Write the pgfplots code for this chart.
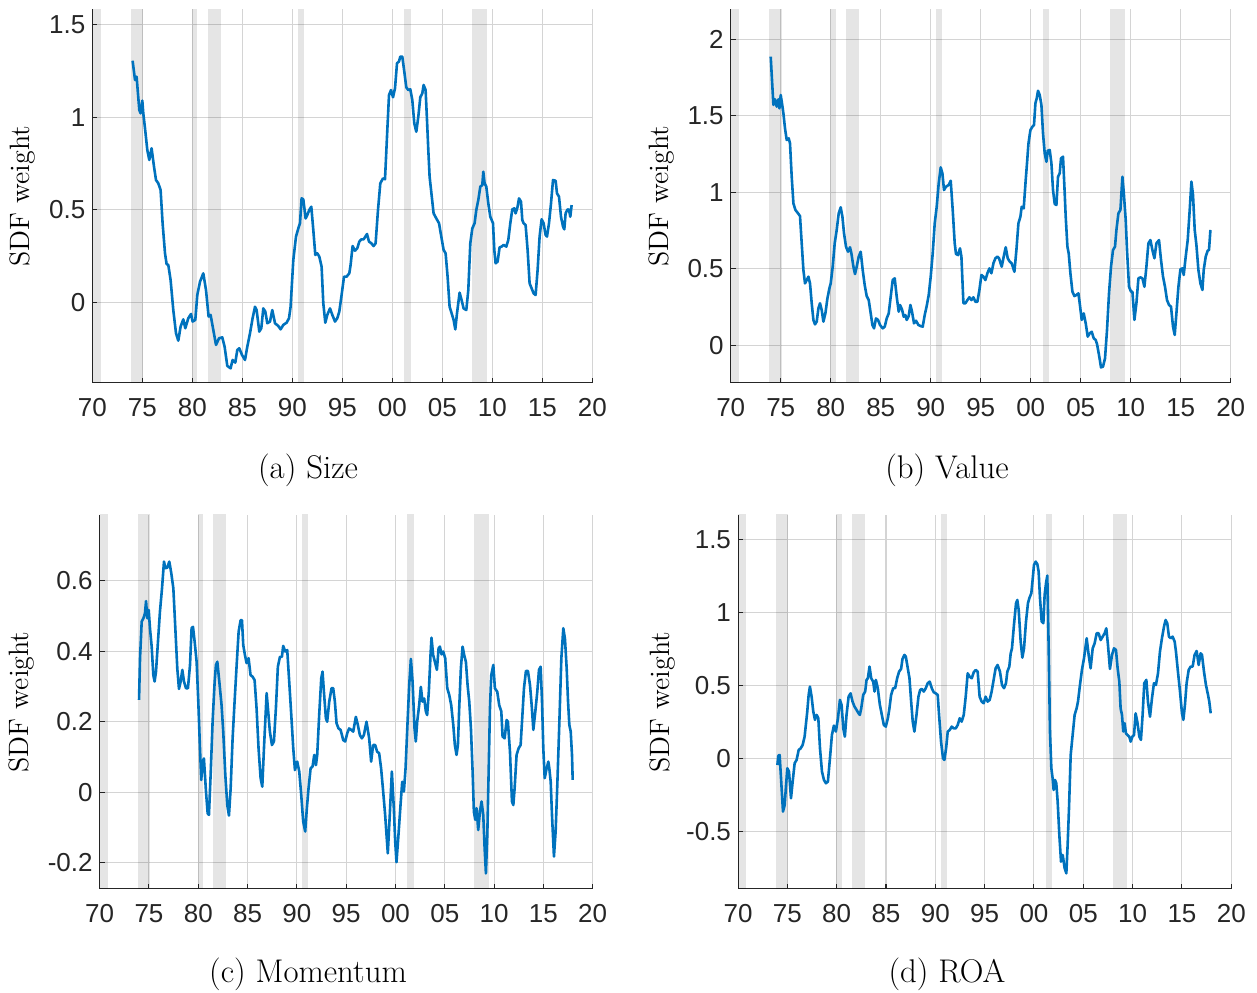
\documentclass[border=0pt]{standalone}
\usepackage{pgfplots}
\pgfplotsset{compat=1.18}
\usepackage{fontspec}
\newfontfamily\arial{Liberation Sans}
\definecolor{sdfblue}{RGB}{0,114,189}
\definecolor{axgray}{RGB}{38,38,38}

% NBER recession bands, drawn translucent so the grid shows through
\newcommand{\recessions}{%
  \addplot[draw=none, fill=black, fill opacity=0.1] coordinates {(1969.90,-5) (1969.90,5) (1970.83,5) (1970.83,-5)} -- cycle;
  \addplot[draw=none, fill=black, fill opacity=0.1] coordinates {(1973.87,-5) (1973.87,5) (1975.10,5) (1975.10,-5)} -- cycle;
  \addplot[draw=none, fill=black, fill opacity=0.1] coordinates {(1979.93,-5) (1979.93,5) (1980.50,5) (1980.50,-5)} -- cycle;
  \addplot[draw=none, fill=black, fill opacity=0.1] coordinates {(1981.53,-5) (1981.53,5) (1982.83,5) (1982.83,-5)} -- cycle;
  \addplot[draw=none, fill=black, fill opacity=0.1] coordinates {(1990.53,-5) (1990.53,5) (1991.17,5) (1991.17,-5)} -- cycle;
  \addplot[draw=none, fill=black, fill opacity=0.1] coordinates {(2001.20,-5) (2001.20,5) (2001.87,5) (2001.87,-5)} -- cycle;
  \addplot[draw=none, fill=black, fill opacity=0.1] coordinates {(2007.97,-5) (2007.97,5) (2009.47,5) (2009.47,-5)} -- cycle;
}

\pgfplotsset{sdfpanel/.style={
  scale only axis, xmin=1970, xmax=2020,
  axis x line*=bottom, axis y line*=left,
  xtick={1970,1975,1980,1985,1990,1995,2000,2005,2010,2015,2020},
  xticklabels={70,75,80,85,90,95,00,05,10,15,20},
  grid=major, major grid style={draw=black!17, line width=0.5pt},
  tick align=inside, major tick length=2.5pt,
  tick style={draw=axgray, line width=0.5pt},
  axis line style={draw=axgray, line width=0.5pt},
  ticklabel style={font=\arial\fontsize{13}{15}\selectfont, text=axgray},
  /pgf/number format/assume math mode=true,
  xticklabel style={yshift=-4.2pt},
  ylabel={SDF weight},
  ylabel style={font=\fontsize{14}{16}\selectfont, anchor=center},
  series/.style={sdfblue, line width=1.3pt, line join=round, mark=none},
}}

\begin{document}
\begin{tikzpicture}
\path[use as bounding box] (0,0) rectangle (628.5pt,496pt);

% (a) Size
\begin{axis}[sdfpanel, at={(46.15pt,304.5pt)}, anchor=south west,
  width=250pt, height=186.75pt, ymin=-0.433, ymax=1.58, ytick={0,0.5,1,1.5},
  ylabel style={at={(axis description cs:-0.14,0.5)}}]
\recessions
\addplot[series] coordinates {
(1974.03,1.304) (1974.27,1.20) (1974.43,1.218) (1974.7,1.038) (1974.83,1.02) (1975.0,1.089) (1975.1,1.02) (1975.27,0.94) (1975.5,0.823) (1975.7,0.769) (1975.93,0.832) (1976.17,0.733) (1976.37,0.661) (1976.6,0.643) (1976.83,0.607) (1977.03,0.428) (1977.27,0.266) (1977.43,0.208) (1977.6,0.203) (1977.83,0.122) (1978.1,-0.04) (1978.37,-0.165) (1978.6,-0.205) (1978.83,-0.129) (1979.1,-0.09) (1979.3,-0.138) (1979.6,-0.084) (1979.87,-0.061) (1980.03,-0.102) (1980.3,-0.093) (1980.5,0.041) (1980.77,0.113) (1981.1,0.158) (1981.37,0.068) (1981.63,-0.075) (1981.83,-0.066) (1982.1,-0.147) (1982.37,-0.228) (1982.67,-0.192) (1983.0,-0.187) (1983.23,-0.237) (1983.5,-0.341) (1983.83,-0.354) (1984.03,-0.309) (1984.3,-0.323) (1984.5,-0.255) (1984.7,-0.246) (1984.97,-0.282) (1985.27,-0.309) (1985.5,-0.237) (1985.77,-0.165) (1986.03,-0.084) (1986.27,-0.022) (1986.43,-0.04) (1986.7,-0.156) (1986.9,-0.138) (1987.1,-0.031) (1987.3,-0.048) (1987.5,-0.111) (1987.77,-0.102) (1988.0,-0.04) (1988.27,-0.111) (1988.6,-0.126) (1988.83,-0.144) (1989.1,-0.12) (1989.43,-0.108) (1989.67,-0.084) (1989.83,-0.022) (1990.1,0.23) (1990.37,0.356) (1990.6,0.40) (1990.77,0.428) (1990.93,0.562) (1991.1,0.557) (1991.33,0.454) (1991.5,0.472) (1991.7,0.50) (1991.9,0.517) (1992.1,0.392) (1992.3,0.257) (1992.5,0.266) (1992.7,0.248) (1992.93,0.194) (1993.1,-0.004) (1993.3,-0.108) (1993.5,-0.066) (1993.77,-0.031) (1994.0,-0.066) (1994.27,-0.102) (1994.5,-0.084) (1994.7,-0.048) (1994.93,0.041) (1995.17,0.14) (1995.43,0.14) (1995.7,0.158) (1995.83,0.203) (1996.03,0.305) (1996.27,0.28) (1996.5,0.293) (1996.7,0.329) (1996.9,0.341) (1997.13,0.341) (1997.47,0.37) (1997.67,0.329) (1997.9,0.32) (1998.13,0.305) (1998.33,0.32) (1998.57,0.50) (1998.8,0.643) (1999.07,0.67) (1999.27,0.665) (1999.47,0.895) (1999.67,1.119) (1999.87,1.146) (2000.07,1.107) (2000.27,1.155) (2000.47,1.29) (2000.67,1.30) (2000.8,1.326) (2001.0,1.326) (2001.2,1.245) (2001.4,1.16) (2001.6,1.146) (2001.8,1.15) (2002.0,1.092) (2002.2,0.966) (2002.4,0.921) (2002.6,1.002) (2002.8,1.107) (2003.0,1.128) (2003.13,1.173) (2003.33,1.146) (2003.47,0.984) (2003.6,0.823) (2003.73,0.679) (2003.93,0.58) (2004.13,0.481) (2004.4,0.454) (2004.67,0.428) (2004.9,0.356) (2005.13,0.284) (2005.33,0.266) (2005.53,0.14) (2005.73,-0.022) (2005.93,-0.057) (2006.13,-0.093) (2006.3,-0.144) (2006.47,-0.057) (2006.73,0.054) (2006.93,0.014) (2007.13,-0.031) (2007.4,-0.04) (2007.6,0.068) (2007.8,0.32) (2008.0,0.40) (2008.23,0.428) (2008.4,0.50) (2008.6,0.553) (2008.8,0.625) (2009.0,0.634) (2009.1,0.706) (2009.23,0.643) (2009.4,0.625) (2009.6,0.535) (2009.8,0.463) (2010.07,0.428) (2010.2,0.284) (2010.33,0.212) (2010.53,0.221) (2010.73,0.298) (2010.93,0.302) (2011.13,0.311) (2011.4,0.302) (2011.6,0.338) (2011.8,0.428) (2012.0,0.503) (2012.2,0.508) (2012.33,0.481) (2012.53,0.517) (2012.67,0.562) (2012.87,0.544) (2013.0,0.445) (2013.13,0.428) (2013.33,0.418) (2013.53,0.284) (2013.73,0.104) (2013.93,0.077) (2014.13,0.05) (2014.33,0.041) (2014.53,0.176) (2014.73,0.356) (2014.93,0.449) (2015.13,0.428) (2015.33,0.365) (2015.47,0.356) (2015.67,0.428) (2015.87,0.535) (2016.07,0.661) (2016.33,0.657) (2016.47,0.589) (2016.67,0.571) (2016.87,0.463) (2017.07,0.41) (2017.2,0.395) (2017.33,0.481) (2017.53,0.503) (2017.67,0.50) (2017.8,0.463) (2017.93,0.526)
};
\end{axis}

% (b) Value
\begin{axis}[sdfpanel, at={(365.35pt,304.5pt)}, anchor=south west,
  width=250pt, height=186.75pt, ymin=-0.246, ymax=2.195, ytick={0,0.5,1,1.5,2},
  ylabel style={at={(axis description cs:-0.138,0.5)}}]
\recessions
\addplot[series] coordinates {
(1974.0,1.887) (1974.13,1.734) (1974.27,1.571) (1974.43,1.608) (1974.6,1.56) (1974.77,1.608) (1974.87,1.549) (1975.0,1.636) (1975.13,1.582) (1975.27,1.516) (1975.43,1.418) (1975.6,1.342) (1975.8,1.353) (1975.93,1.32) (1976.1,1.102) (1976.27,0.928) (1976.47,0.885) (1976.73,0.863) (1976.93,0.845) (1977.1,0.667) (1977.27,0.492) (1977.43,0.405) (1977.6,0.427) (1977.77,0.449) (1977.93,0.405) (1978.1,0.275) (1978.27,0.166) (1978.43,0.137) (1978.6,0.155) (1978.77,0.242) (1978.93,0.275) (1979.1,0.231) (1979.27,0.155) (1979.47,0.209) (1979.67,0.307) (1979.87,0.373) (1980.0,0.405) (1980.2,0.514) (1980.4,0.667) (1980.6,0.754) (1980.8,0.863) (1981.0,0.902) (1981.17,0.841) (1981.33,0.732) (1981.53,0.645) (1981.73,0.612) (1981.93,0.641) (1982.07,0.601) (1982.27,0.514) (1982.43,0.466) (1982.6,0.514) (1982.8,0.58) (1983.0,0.612) (1983.2,0.492) (1983.4,0.394) (1983.6,0.322) (1983.8,0.296) (1984.0,0.209) (1984.17,0.133) (1984.33,0.111) (1984.53,0.176) (1984.73,0.166) (1984.93,0.133) (1985.2,0.111) (1985.4,0.122) (1985.6,0.176) (1985.8,0.209) (1986.0,0.318) (1986.2,0.427) (1986.4,0.438) (1986.6,0.318) (1986.8,0.22) (1986.93,0.264) (1987.13,0.235) (1987.3,0.187) (1987.47,0.198) (1987.6,0.166) (1987.8,0.192) (1987.97,0.264) (1988.13,0.22) (1988.33,0.144) (1988.53,0.161) (1988.77,0.133) (1989.0,0.126) (1989.2,0.122) (1989.4,0.198) (1989.6,0.257) (1989.8,0.329) (1990.0,0.449) (1990.2,0.601) (1990.4,0.797) (1990.6,0.906) (1990.8,1.059) (1991.0,1.163) (1991.17,1.124) (1991.33,1.015) (1991.53,1.037) (1991.8,1.048) (1992.0,1.076) (1992.2,0.885) (1992.4,0.667) (1992.53,0.597) (1992.73,0.59) (1992.93,0.634) (1993.07,0.58) (1993.27,0.275) (1993.47,0.275) (1993.67,0.296) (1993.87,0.314) (1994.07,0.296) (1994.27,0.314) (1994.47,0.285) (1994.67,0.285) (1994.87,0.362) (1995.07,0.46) (1995.27,0.449) (1995.47,0.427) (1995.67,0.471) (1995.87,0.503) (1996.07,0.471) (1996.27,0.536) (1996.47,0.569) (1996.67,0.58) (1996.83,0.569) (1997.1,0.514) (1997.3,0.58) (1997.5,0.641) (1997.7,0.569) (1997.9,0.547) (1998.1,0.536) (1998.37,0.481) (1998.57,0.623) (1998.77,0.797) (1998.97,0.841) (1999.1,0.906) (1999.3,0.895) (1999.5,1.081) (1999.63,1.19) (1999.77,1.316) (1999.97,1.407) (2000.17,1.429) (2000.33,1.44) (2000.47,1.582) (2000.6,1.614) (2000.73,1.664) (2000.9,1.636) (2001.07,1.571) (2001.23,1.386) (2001.4,1.255) (2001.57,1.2) (2001.7,1.272) (2001.9,1.277) (2002.07,1.19) (2002.23,1.015) (2002.4,0.924) (2002.57,0.917) (2002.73,1.102) (2002.9,1.124) (2003.03,1.222) (2003.23,1.233) (2003.37,1.037) (2003.5,0.841) (2003.67,0.645) (2003.8,0.601) (2003.97,0.471) (2004.17,0.351) (2004.37,0.322) (2004.57,0.329) (2004.77,0.34) (2004.9,0.275) (2005.1,0.166) (2005.3,0.209) (2005.5,0.144) (2005.7,0.057) (2005.9,0.078) (2006.1,0.089) (2006.3,0.046) (2006.5,0.035) (2006.63,0.009) (2006.83,-0.063) (2007.03,-0.144) (2007.23,-0.139) (2007.43,-0.085) (2007.63,0.1) (2007.83,0.34) (2008.03,0.514) (2008.23,0.623) (2008.43,0.645) (2008.57,0.754) (2008.77,0.863) (2008.97,0.885) (2009.17,1.102) (2009.3,1.004) (2009.5,0.819) (2009.63,0.623) (2009.83,0.383) (2010.03,0.351) (2010.17,0.351) (2010.37,0.166) (2010.57,0.275) (2010.77,0.438) (2010.97,0.444) (2011.17,0.438) (2011.37,0.383) (2011.57,0.514) (2011.77,0.667) (2011.97,0.688) (2012.17,0.623) (2012.37,0.569) (2012.57,0.667) (2012.83,0.688) (2013.03,0.558) (2013.23,0.449) (2013.43,0.383) (2013.63,0.296) (2013.83,0.264) (2014.03,0.253) (2014.23,0.122) (2014.4,0.068) (2014.57,0.209) (2014.77,0.383) (2014.97,0.497) (2015.17,0.503) (2015.3,0.46) (2015.5,0.58) (2015.7,0.688) (2015.9,0.885) (2016.07,1.07) (2016.23,0.983) (2016.4,0.754) (2016.57,0.656) (2016.77,0.492) (2016.97,0.405) (2017.17,0.362) (2017.3,0.492) (2017.5,0.58) (2017.7,0.619) (2017.83,0.623) (2017.97,0.754)
};
\end{axis}

% (c) Momentum
\begin{axis}[sdfpanel, at={(49.85pt,51.5pt)}, anchor=south west,
  width=246.5pt, height=187pt, ymin=-0.274, ymax=0.786, ytick={-0.2,0,0.2,0.4,0.6},
  ylabel style={at={(axis description cs:-0.158,0.5)}}]
\recessions
\addplot[series] coordinates {
(1973.99,0.262) (1974.09,0.38) (1974.26,0.484) (1974.43,0.493) (1974.59,0.507) (1974.7,0.542) (1974.83,0.493) (1974.97,0.517) (1975.1,0.465) (1975.27,0.413) (1975.44,0.332) (1975.57,0.314) (1975.71,0.342) (1975.91,0.427) (1976.11,0.512) (1976.32,0.578) (1976.52,0.654) (1976.66,0.635) (1976.86,0.637) (1977.06,0.654) (1977.26,0.621) (1977.47,0.578) (1977.67,0.465) (1977.87,0.351) (1978.04,0.293) (1978.21,0.314) (1978.38,0.347) (1978.55,0.314) (1978.75,0.295) (1978.95,0.295) (1979.16,0.361) (1979.32,0.465) (1979.46,0.469) (1979.63,0.427) (1979.83,0.37) (1980.0,0.257) (1980.17,0.125) (1980.3,0.035) (1980.44,0.087) (1980.57,0.096) (1980.78,0.002) (1980.95,-0.06) (1981.08,-0.064) (1981.25,0.049) (1981.45,0.20) (1981.66,0.314) (1981.79,0.361) (1981.93,0.37) (1982.13,0.314) (1982.36,0.247) (1982.53,0.172) (1982.74,0.049) (1982.94,-0.036) (1983.11,-0.066) (1983.28,0.011) (1983.48,0.153) (1983.68,0.257) (1983.89,0.361) (1984.09,0.455) (1984.29,0.488) (1984.43,0.488) (1984.56,0.417) (1984.73,0.389) (1984.9,0.366) (1985.1,0.38) (1985.3,0.332) (1985.5,0.328) (1985.71,0.318) (1985.91,0.238) (1986.11,0.125) (1986.32,0.04) (1986.49,0.016) (1986.66,0.125) (1986.93,0.281) (1987.09,0.229) (1987.26,0.172) (1987.47,0.134) (1987.67,0.144) (1987.87,0.238) (1988.07,0.356) (1988.28,0.384) (1988.48,0.384) (1988.61,0.415) (1988.82,0.399) (1989.02,0.403) (1989.22,0.314) (1989.43,0.219) (1989.63,0.125) (1989.8,0.063) (1990.03,0.087) (1990.24,0.059) (1990.44,-0.008) (1990.64,-0.083) (1990.84,-0.111) (1991.01,-0.045) (1991.18,0.011) (1991.39,0.068) (1991.59,0.073) (1991.76,0.106) (1991.93,0.077) (1992.06,0.106) (1992.26,0.219) (1992.47,0.323) (1992.6,0.342) (1992.74,0.285) (1992.94,0.21) (1993.07,0.20) (1993.28,0.257) (1993.51,0.295) (1993.68,0.295) (1993.85,0.257) (1994.02,0.196) (1994.22,0.181) (1994.43,0.177) (1994.7,0.148) (1994.9,0.144) (1995.1,0.167) (1995.3,0.181) (1995.51,0.177) (1995.71,0.172) (1995.98,0.214) (1996.18,0.191) (1996.39,0.162) (1996.59,0.153) (1996.79,0.162) (1997.06,0.20) (1997.33,0.153) (1997.53,0.087) (1997.73,0.134) (1997.94,0.134) (1998.14,0.115) (1998.34,0.111) (1998.54,0.068) (1998.75,0.002) (1998.95,-0.064) (1999.09,-0.121) (1999.22,-0.173) (1999.42,-0.064) (1999.63,0.059) (1999.83,-0.045) (1999.97,-0.14) (2000.1,-0.198) (2000.3,-0.121) (2000.51,-0.036) (2000.68,0.03) (2000.85,0.002) (2001.02,0.068) (2001.18,0.172) (2001.39,0.304) (2001.56,0.378) (2001.73,0.314) (2001.93,0.181) (2002.06,0.144) (2002.2,0.20) (2002.4,0.247) (2002.57,0.299) (2002.74,0.257) (2002.91,0.266) (2003.08,0.229) (2003.21,0.219) (2003.38,0.285) (2003.55,0.389) (2003.65,0.438) (2003.82,0.389) (2004.03,0.366) (2004.2,0.347) (2004.37,0.408) (2004.5,0.413) (2004.67,0.391) (2004.84,0.399) (2005.04,0.38) (2005.25,0.295) (2005.45,0.276) (2005.65,0.247) (2005.86,0.191) (2006.02,0.134) (2006.19,0.106) (2006.33,0.134) (2006.46,0.238) (2006.63,0.351) (2006.8,0.413) (2006.97,0.389) (2007.14,0.37) (2007.31,0.304) (2007.48,0.257) (2007.65,0.181) (2007.82,0.059) (2007.95,-0.055) (2008.09,-0.078) (2008.22,-0.045) (2008.39,-0.107) (2008.56,-0.055) (2008.73,-0.026) (2008.9,-0.064) (2009.04,-0.159) (2009.17,-0.23) (2009.31,-0.121) (2009.44,0.049) (2009.58,0.238) (2009.71,0.332) (2009.92,0.361) (2010.08,0.295) (2010.32,0.285) (2010.52,0.247) (2010.73,0.229) (2010.86,0.158) (2011.07,0.153) (2011.27,0.205) (2011.4,0.20) (2011.61,0.115) (2011.81,-0.026) (2011.95,-0.036) (2012.08,0.011) (2012.28,0.106) (2012.49,0.125) (2012.69,0.134) (2012.83,0.20) (2013.03,0.295) (2013.23,0.344) (2013.43,0.344) (2013.64,0.304) (2013.81,0.247) (2013.98,0.177) (2014.18,0.229) (2014.38,0.285) (2014.55,0.347) (2014.72,0.356) (2014.86,0.257) (2014.99,0.125) (2015.13,0.04) (2015.33,0.068) (2015.5,0.087) (2015.6,0.068) (2015.74,0.03) (2015.87,-0.064) (2016.07,-0.182) (2016.24,-0.111) (2016.41,0.021) (2016.62,0.20) (2016.82,0.38) (2017.02,0.465) (2017.19,0.434) (2017.36,0.351) (2017.5,0.257) (2017.63,0.191) (2017.77,0.172) (2017.9,0.106) (2017.97,0.035)
};
\end{axis}

% (d) ROA
\begin{axis}[sdfpanel, at={(369pt,51.5pt)}, anchor=south west,
  width=246.65pt, height=187pt, ymin=-0.895, ymax=1.666, ytick={-0.5,0,0.5,1,1.5},
  ylabel style={at={(axis description cs:-0.154,0.5)}}]
\recessions
\addplot[series] coordinates {
(1973.99,-0.046) (1974.09,0.018) (1974.22,0.023) (1974.36,-0.137) (1974.56,-0.365) (1974.73,-0.32) (1974.87,-0.183) (1975.0,-0.068) (1975.17,-0.091) (1975.37,-0.274) (1975.54,-0.16) (1975.74,-0.034) (1975.94,-0.011) (1976.15,0.057) (1976.35,0.068) (1976.55,0.091) (1976.75,0.148) (1977.02,0.32) (1977.16,0.434) (1977.29,0.491) (1977.46,0.422) (1977.63,0.32) (1977.8,0.263) (1977.97,0.297) (1978.14,0.274) (1978.31,0.068) (1978.51,-0.091) (1978.71,-0.148) (1978.91,-0.171) (1979.11,-0.16) (1979.32,0.0) (1979.52,0.16) (1979.72,0.224) (1979.92,0.183) (1980.13,0.274) (1980.33,0.40) (1980.5,0.365) (1980.67,0.205) (1980.83,0.148) (1981.0,0.297) (1981.21,0.422) (1981.41,0.445) (1981.61,0.388) (1981.81,0.354) (1982.02,0.331) (1982.22,0.308) (1982.35,0.297) (1982.49,0.342) (1982.69,0.434) (1982.89,0.457) (1983.03,0.537) (1983.16,0.548) (1983.33,0.628) (1983.5,0.548) (1983.7,0.525) (1983.84,0.457) (1983.97,0.537) (1984.17,0.48) (1984.38,0.365) (1984.58,0.297) (1984.78,0.228) (1984.98,0.217) (1985.19,0.274) (1985.35,0.342) (1985.52,0.434) (1985.73,0.48) (1985.93,0.48) (1986.13,0.548) (1986.33,0.594) (1986.53,0.612) (1986.67,0.68) (1986.87,0.708) (1987.01,0.696) (1987.21,0.616) (1987.38,0.548) (1987.55,0.388) (1987.71,0.251) (1987.88,0.183) (1988.09,0.297) (1988.29,0.422) (1988.46,0.468) (1988.63,0.475) (1988.83,0.457) (1989.03,0.48) (1989.23,0.514) (1989.43,0.525) (1989.64,0.48) (1989.84,0.452) (1990.04,0.445) (1990.24,0.434) (1990.38,0.297) (1990.58,0.114) (1990.78,0.0) (1990.92,-0.011) (1991.09,0.068) (1991.26,0.183) (1991.46,0.194) (1991.66,0.217) (1991.86,0.205) (1992.07,0.205) (1992.27,0.228) (1992.47,0.274) (1992.67,0.251) (1992.88,0.297) (1993.08,0.422) (1993.28,0.582) (1993.48,0.559) (1993.69,0.548) (1993.89,0.589) (1994.09,0.605) (1994.29,0.594) (1994.49,0.422) (1994.7,0.388) (1994.9,0.377) (1995.1,0.422) (1995.3,0.388) (1995.51,0.40) (1995.71,0.457) (1995.91,0.537) (1996.11,0.616) (1996.31,0.639) (1996.55,0.594) (1996.76,0.502) (1996.96,0.48) (1997.16,0.514) (1997.3,0.594) (1997.5,0.628) (1997.64,0.719) (1997.77,0.753) (1997.97,0.913) (1998.18,1.062) (1998.31,1.084) (1998.45,1.016) (1998.65,0.799) (1998.82,0.689) (1998.99,0.753) (1999.19,0.936) (1999.39,1.062) (1999.53,1.096) (1999.73,1.13) (1999.86,1.221) (2000.0,1.324) (2000.17,1.347) (2000.34,1.329) (2000.47,1.279) (2000.61,1.096) (2000.78,0.936) (2000.95,0.925) (2001.08,1.119) (2001.22,1.199) (2001.35,1.251) (2001.49,0.753) (2001.62,0.183) (2001.76,-0.068) (2001.89,-0.137) (2001.99,-0.217) (2002.13,-0.148) (2002.26,-0.171) (2002.4,-0.297) (2002.57,-0.525) (2002.74,-0.708) (2002.91,-0.662) (2003.11,-0.753) (2003.28,-0.788) (2003.41,-0.594) (2003.55,-0.342) (2003.72,0.023) (2003.92,0.16) (2004.12,0.297) (2004.32,0.342) (2004.46,0.388) (2004.66,0.502) (2004.86,0.605) (2005.07,0.685) (2005.34,0.822) (2005.54,0.708) (2005.74,0.616) (2005.95,0.753) (2006.15,0.788) (2006.35,0.856) (2006.55,0.856) (2006.76,0.81) (2006.96,0.833) (2007.16,0.856) (2007.33,0.89) (2007.5,0.776) (2007.7,0.612) (2007.91,0.708) (2008.11,0.753) (2008.31,0.742) (2008.48,0.616) (2008.65,0.525) (2008.78,0.342) (2008.92,0.297) (2009.05,0.183) (2009.19,0.24) (2009.32,0.171) (2009.46,0.16) (2009.66,0.148) (2009.8,0.114) (2009.97,0.148) (2010.14,0.16) (2010.3,0.308) (2010.47,0.251) (2010.68,0.148) (2010.84,0.126) (2011.01,0.297) (2011.18,0.514) (2011.39,0.537) (2011.55,0.388) (2011.76,0.285) (2011.96,0.411) (2012.16,0.514) (2012.36,0.502) (2012.57,0.582) (2012.77,0.731) (2012.97,0.822) (2013.18,0.902) (2013.34,0.947) (2013.51,0.925) (2013.68,0.833) (2013.85,0.822) (2014.05,0.833) (2014.26,0.799) (2014.39,0.731) (2014.59,0.594) (2014.8,0.457) (2015.0,0.308) (2015.14,0.263) (2015.3,0.365) (2015.47,0.514) (2015.68,0.605) (2015.88,0.628) (2016.08,0.628) (2016.28,0.708) (2016.49,0.735) (2016.69,0.639) (2016.89,0.719) (2017.03,0.708) (2017.23,0.594) (2017.43,0.502) (2017.64,0.434) (2017.77,0.388) (2017.91,0.308)
};
\end{axis}

\node[font=\fontsize{16.4}{19}\selectfont] at (154pt,261pt) {(a) Size};
\node[font=\fontsize{16.4}{19}\selectfont] at (473.5pt,261pt) {(b) Value};
\node[font=\fontsize{16.4}{19}\selectfont] at (154pt,9pt) {(c) Momentum};
\node[font=\fontsize{16.4}{19}\selectfont] at (473.5pt,9pt) {(d) ROA};
\end{tikzpicture}
\end{document}
